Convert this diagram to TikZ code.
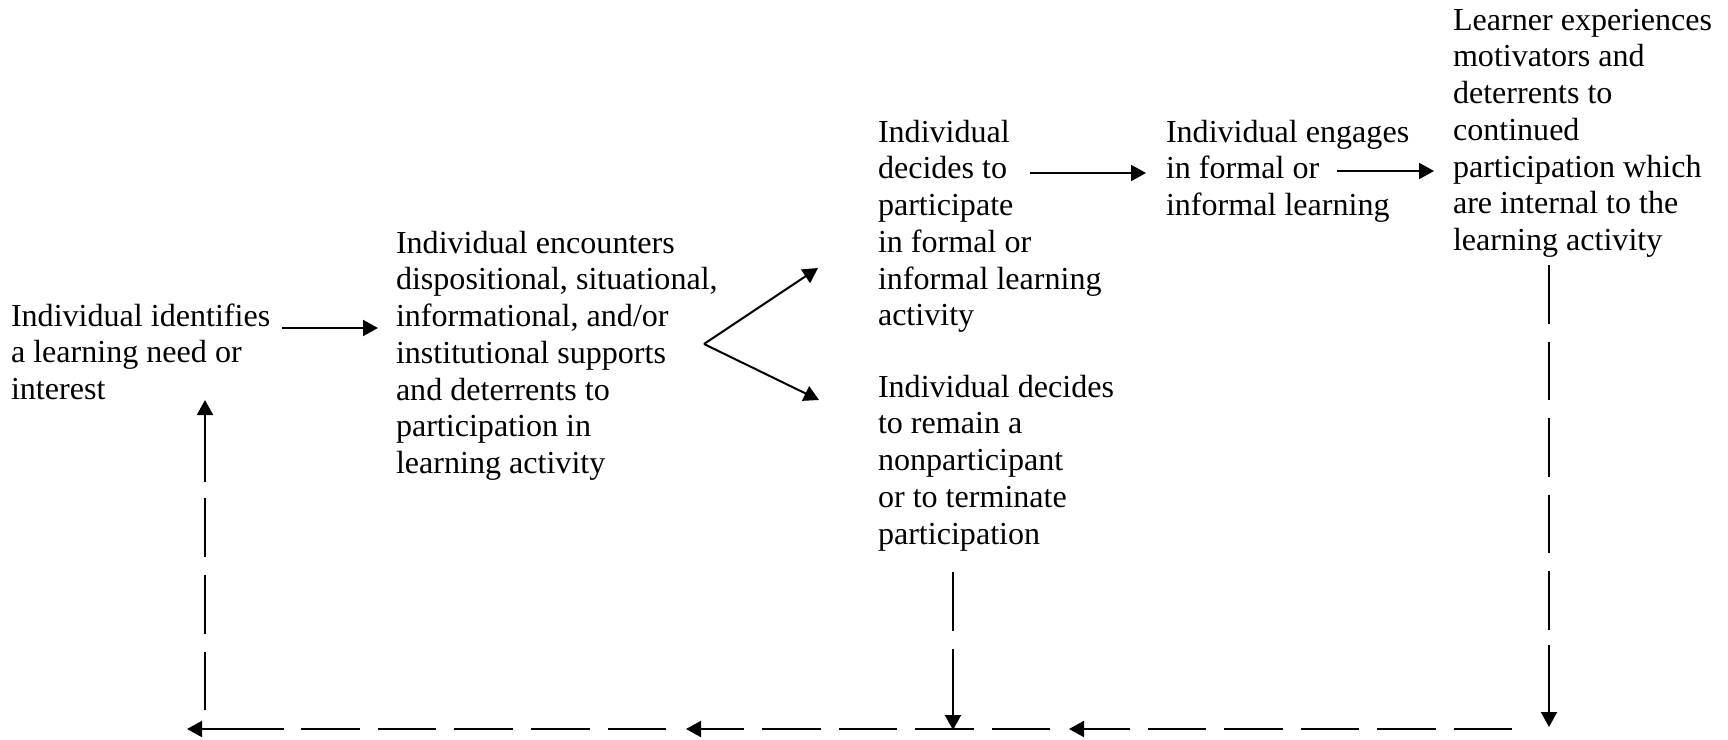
\documentclass[tikz,border=0pt]{standalone}
\usepackage{fontspec}
\setmainfont{Liberation Serif}
\usetikzlibrary{arrows.meta,calc}
% left-aligned stack of lines whose baseline is the first line
\newcommand{\txtblock}[1]{\begin{tabular}[t]{@{}l@{}}#1\end{tabular}}

\begin{document}
\begin{tikzpicture}[x=0.5bp,y=-0.5bp,
  stage/.style={anchor=base west, inner sep=0pt, outer sep=0pt,
    font=\fontsize{16.1pt}{18.45pt}\selectfont},
  link/.style={line width=1bp, -{Triangle[length=7.5bp,width=8bp]}},
  longdash/.style={line width=1bp, dash pattern=on 29.25bp off 9bp}]
\useasboundingbox (0,0) rectangle (1728,740);

% stages of the participation process
\node[stage] (need) at (11,326) {\txtblock{Individual identifies\\ a learning need or\\ interest}};
\node[stage] (encounter) at (396,253) {\txtblock{Individual encounters\\ dispositional, situational,\\ informational, and/or\\ institutional supports\\ and deterrents to\\ participation in\\ learning activity}};
\node[stage] (participate) at (878,142) {\txtblock{Individual\\ decides to\\ participate\\ in formal or\\ informal learning\\ activity}};
\node[stage] (remain) at (878,397) {\txtblock{Individual decides\\ to remain a\\ nonparticipant\\ or to terminate\\ participation}};
\node[stage] (engage) at (1166,142) {\txtblock{Individual engages\\ in formal or\\ informal learning}};
\node[stage] (experience) at (1453,30) {\txtblock{Learner experiences\\ motivators and\\ deterrents to\\ continued\\ participation which\\ are internal to the\\ learning activity}};

% connector end points
\coordinate (ab-s) at (282,328);   \coordinate (ab-e) at (378,328);
\coordinate (fork) at (704,344);
\coordinate (fork-up) at (818,268); \coordinate (fork-dn) at (819,400);
\coordinate (ce-s) at (1030,173);  \coordinate (ce-e) at (1146,173);
\coordinate (ef-s) at (1337,171);  \coordinate (ef-e) at (1434,171);

% feedback loop (tail, start of last dash, head)
\coordinate (fv-s) at (1549,265); \coordinate (fv-m) at (1549,645); \coordinate (fv-e) at (1549,727);
\coordinate (dv-s) at (953,572);  \coordinate (dv-m) at (953,649);  \coordinate (dv-e) at (953,730);
\coordinate (b1-s) at (1512,729); \coordinate (b1-m) at (1130,729); \coordinate (b1-e) at (1069,729);
\coordinate (b2-s) at (1050,729); \coordinate (b2-m) at (744,729);  \coordinate (b2-e) at (686,729);
\coordinate (b3-s) at (666,729);  \coordinate (b3-m) at (283,729);  \coordinate (b3-e) at (187,729);
\coordinate (lv-s) at (205,710);  \coordinate (lv-m) at (205,482);  \coordinate (lv-e) at (205,400);

% forward flow
\draw[link] (ab-s) -- (ab-e);
\draw[link] (fork) -- (fork-up);
\draw[link] (fork) -- (fork-dn);
\draw[link] (ce-s) -- (ce-e);
\draw[link] (ef-s) -- (ef-e);

% dashed return paths
\draw[longdash] (fv-s) -- (fv-m); \draw[link] (fv-m) -- (fv-e);
\draw[longdash] (dv-s) -- (dv-m); \draw[link] (dv-m) -- (dv-e);
\draw[longdash] (b1-s) -- (b1-m); \draw[link] (b1-m) -- (b1-e);
\draw[longdash] (b2-s) -- (b2-m); \draw[link] (b2-m) -- (b2-e);
\draw[longdash] (b3-s) -- (b3-m); \draw[link] (b3-m) -- (b3-e);
\draw[longdash] (lv-s) -- (lv-m); \draw[link] (lv-m) -- (lv-e);
\end{tikzpicture}
\end{document}
